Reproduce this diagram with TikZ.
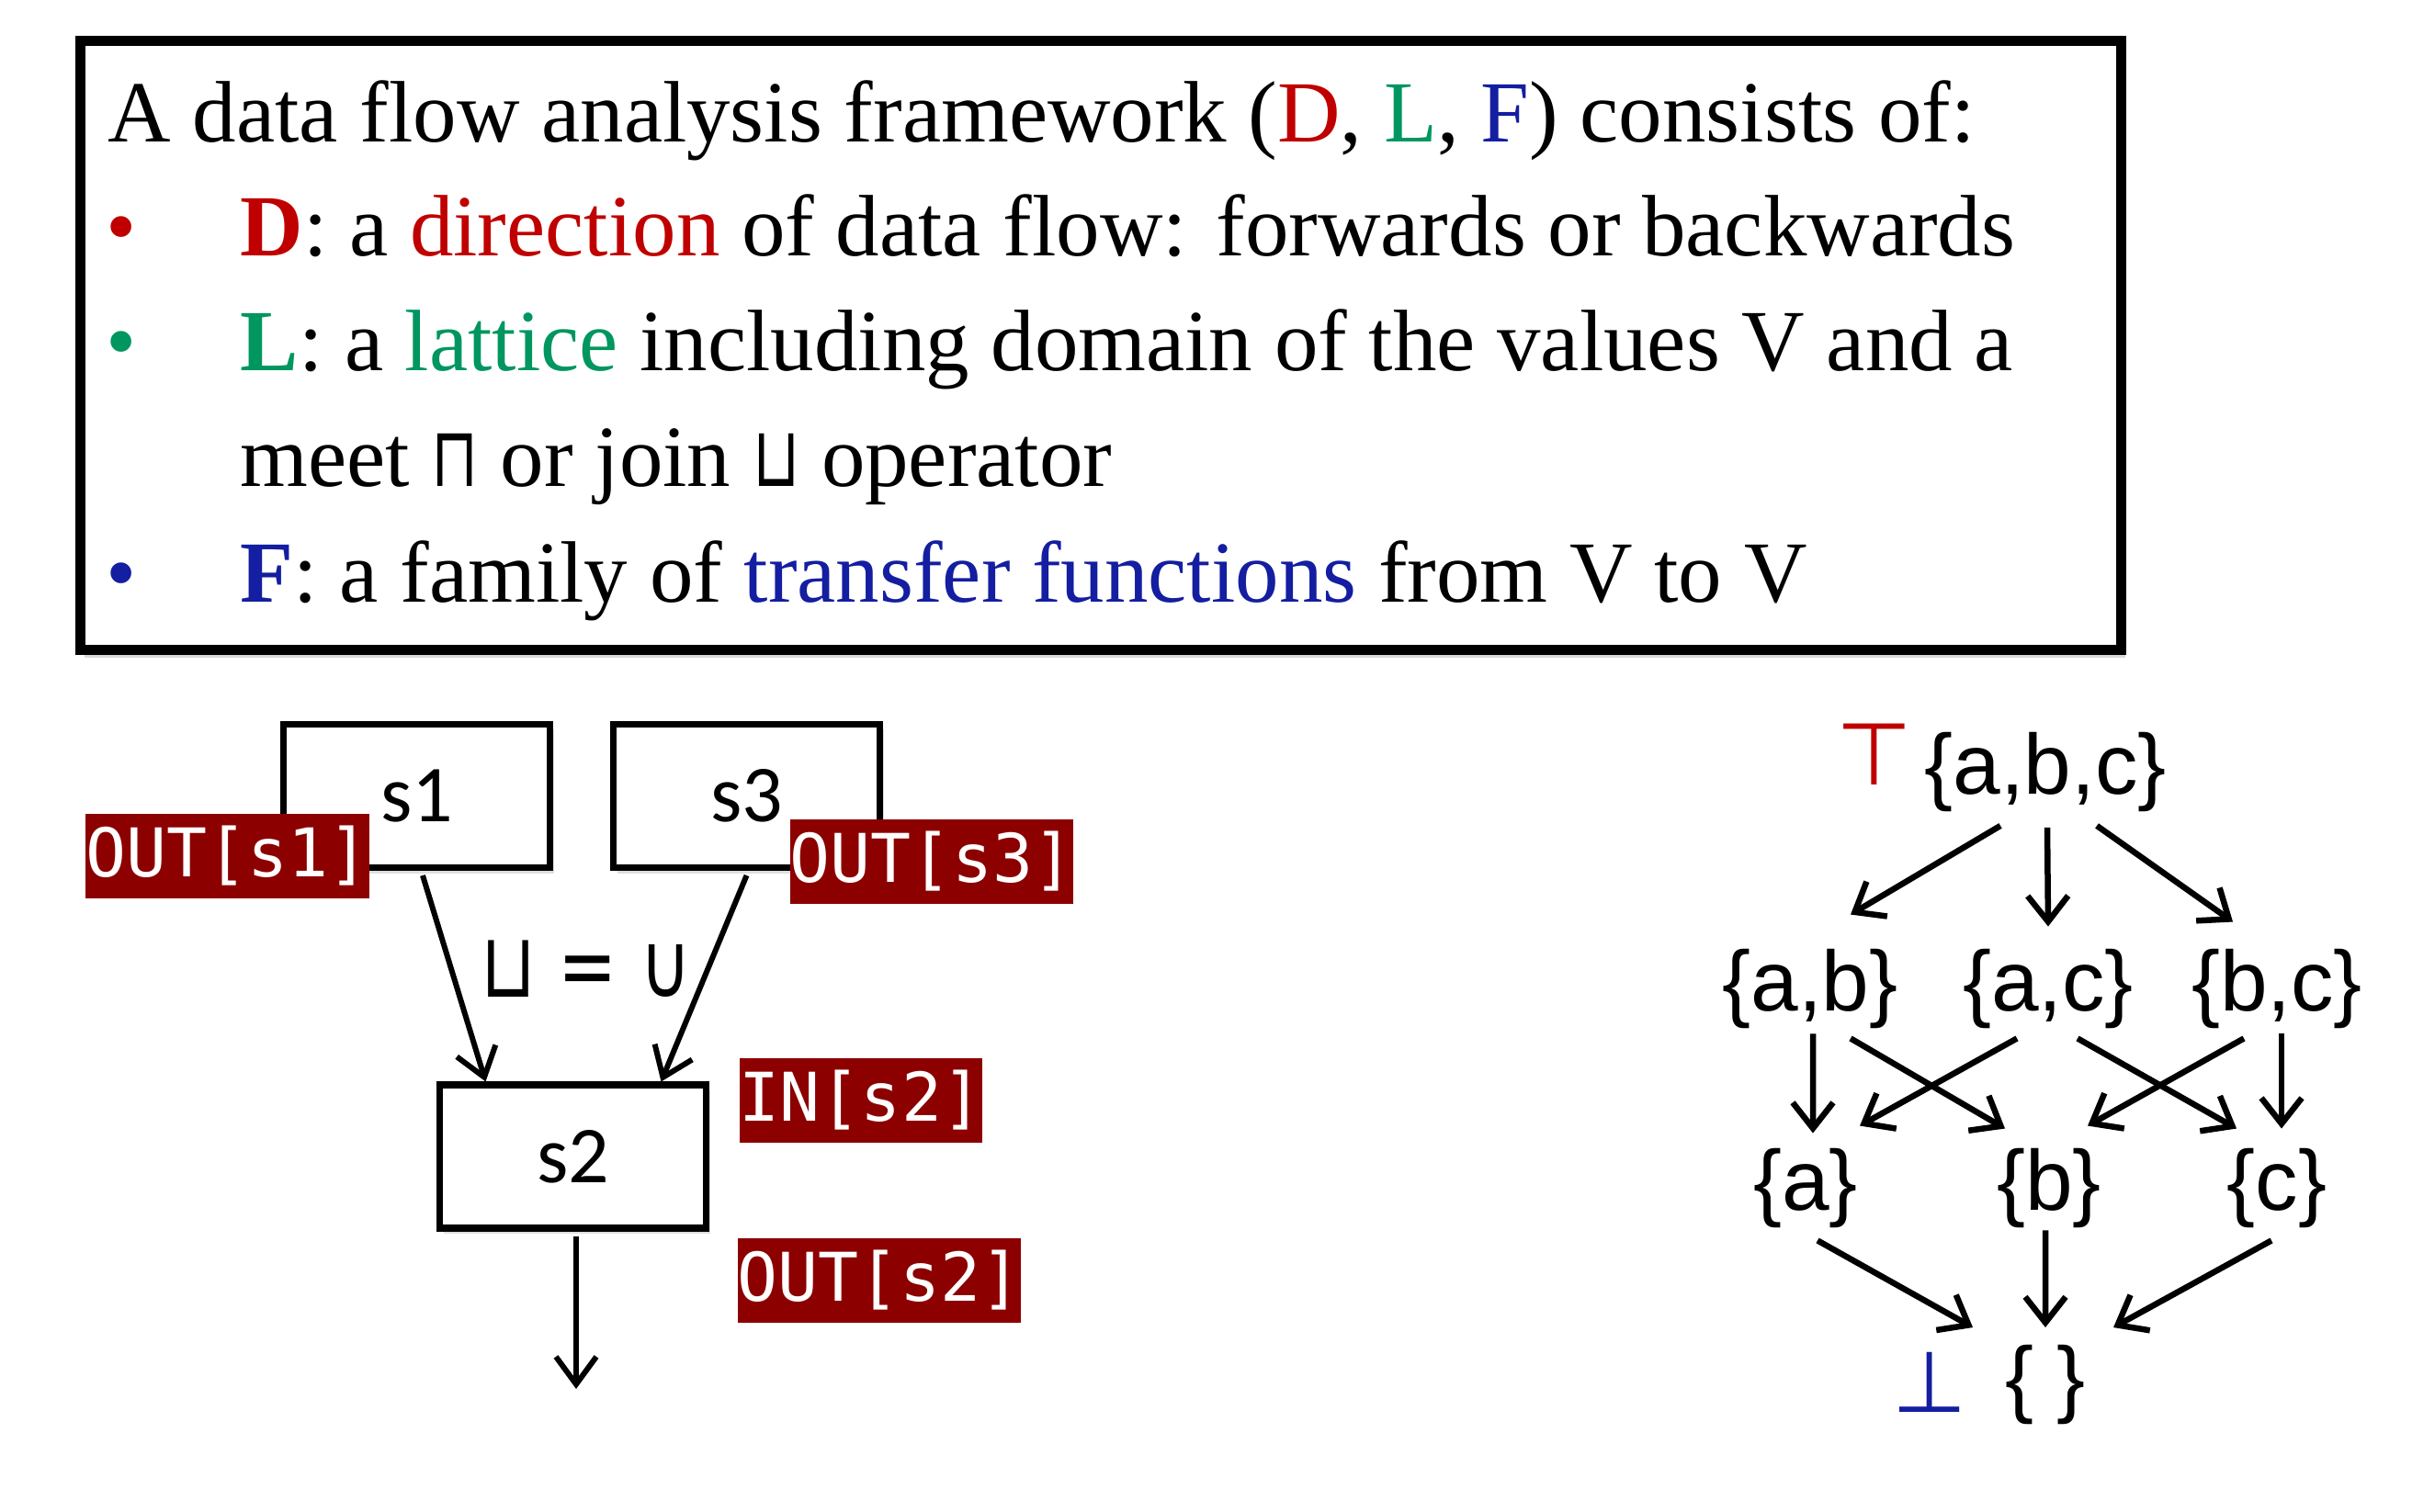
\documentclass[tikz,border=0pt]{standalone}
\usepackage{fontspec}
\usepackage{xcolor}
\usepackage{tikz}
\usetikzlibrary{arrows.meta, positioning, calc, shadows}
\setmainfont{Liberation Serif}
\newfontfamily\latticefont{Liberation Sans}
\newfontfamily\stmtfont{Carlito}
\newfontfamily\tagfont{DejaVu Sans Mono}
\newfontfamily\opfont{DejaVu Sans}
\definecolor{dirred}{RGB}{192, 0, 0}
\definecolor{latgreen}{RGB}{0, 150, 95}
\definecolor{funblue}{RGB}{20, 30, 160}
\definecolor{setred}{RGB}{140, 0, 0}
\newcommand{\narrowop}[1]{\scalebox{0.72}[1]{\opfont\fontsize{26}{28}\selectfont #1}}

\begin{document}
\begin{tikzpicture}[
    frame/.style={draw=black, fill=white, line width=1.1mm,
                  drop shadow={shadow xshift=0.5mm, shadow yshift=-0.8mm, opacity=0.3}},
    line/.style={anchor=base west, inner sep=0pt, font=\fontsize{27}{32}\selectfont},
    dot/.style={anchor=base, inner sep=0pt, font=\fontsize{27}{32}\selectfont},
    stmt/.style={rectangle, draw=black, fill=white, line width=2pt,
                 minimum width=2.9cm, minimum height=1.56cm,
                 font=\stmtfont\fontsize{25}{28}\selectfont,
                 drop shadow={shadow xshift=0.4mm, shadow yshift=-0.6mm, opacity=0.25}},
    tag/.style={fill=setred, text=white, inner sep=0pt, minimum height=0.92cm,
                font=\tagfont\fontsize{20.8}{24}\selectfont},
    elem/.style={inner sep=0pt, font=\latticefont\fontsize{26.4}{30}\selectfont},
    flow/.style={-{Straight Barb[length=3mm, width=4.4mm]}, line width=1.7pt},
    order/.style={-{Straight Barb[length=2.8mm, width=4.4mm]}, line width=1.85pt}
]
\useasboundingbox (0,0) rectangle (26.5,-16.46);

% Framework box
\draw[frame] (0.87,-0.45) rectangle (23.08,-7.08);
\node[line] (head) at (1.17,-1.55) {A data flow analysis framework (\textcolor{dirred}{D}, \textcolor{latgreen}{L}, \textcolor{funblue}{F}) consists of:};
\node[dot, text=dirred] (b1) at (1.32,-2.79) {•};
\node[line] (dline) at (2.61,-2.79) {\textcolor{dirred}{\textbf{D}}: a \textcolor{dirred}{direction} of data flow: forwards or backwards};
\node[dot, text=latgreen] (b2) at (1.32,-4.04) {•};
\node[line] (lline) at (2.61,-4.04) {\textcolor{latgreen}{\textbf{L}}: a \textcolor{latgreen}{lattice} including domain of the values V and a};
\node[line] (lline2) at (2.61,-5.30) {meet \narrowop{⊓} or join \narrowop{⊔} operator};
\node[dot, text=funblue] (b3) at (1.32,-6.56) {•};
\node[line] (fline) at (2.61,-6.56) {\textcolor{funblue}{\textbf{F}}: a family of \textcolor{funblue}{transfer functions} from V to V};

% Statements
\node[stmt] (s1) at (4.535,-8.665) {s1};
\node[stmt, right=0.62cm of s1] (s3) {s3};
\node[stmt] (s2) at (6.235,-12.59) {s2};
\coordinate (exit) at ($(s2.south)+(0.035,-1.715)$);

\draw[flow] ($(s1.south)+(0.065,-0.05)$) -- ($(s2.north)+(-0.95,0)$);
\draw[flow] ($(s3.south)+(0,-0.05)$) -- ($(s2.north)+(0.96,0)$);
\draw[flow] ($(s2.south)+(0.035,-0.05)$) -- (exit);
\node (join) at (6.38,-10.55) {\scalebox{0.78}[1]{\opfont\fontsize{28}{30}\selectfont ⊔ = ∪}};

\node[tag] (out1) at (2.475,-9.32) {OUT[s1]};
\node[tag] (out3) at (10.14,-9.38) {OUT[s3]};
\node[tag] (in2) at (9.37,-11.975) {IN[s2]};
\node[tag] (out2) at (9.57,-13.935) {OUT[s2]};

% Lattice
\node[elem] (abc) at (22.26,-8.41) {\{a,b,c\}};
\node[elem, text=dirred, font=\opfont\fontsize{27}{30}\selectfont] (top) at (20.40,-8.215) {⊤};
\node[elem] (ab) at (19.70,-10.765) {\{a,b\}};
\node[elem] (ac) at (22.29,-10.765) {\{a,c\}};
\node[elem] (bc) at (24.78,-10.765) {\{b,c\}};
\node[elem] (a) at (19.65,-12.935) {\{a\}};
\node[elem] (b) at (22.30,-12.935) {\{b\}};
\node[elem] (c) at (24.78,-12.935) {\{c\}};
\node[elem] (empty) at (22.26,-15.08) {\{ \}};
\node[elem, text=funblue, font=\opfont\fontsize{26.5}{30}\selectfont] (bot) at (21.005,-15.05) {⊥};

\draw[order] ($(abc.south)+(-0.49,-0.14)$) -- ($(ab.north)+(0.44,0.37)$);
\draw[order] ($(abc.south)+(0.02,-0.16)$) -- ($(ac.north)+(0,0.24)$);
\draw[order] ($(abc.south)+(0.56,-0.14)$) -- ($(bc.north)+(-0.48,0.29)$);

\draw[order] ($(ab.south)+(0.03,-0.05)$) -- ($(a.north)+(0.08,0.16)$);
\draw[order] ($(ab.south)+(0.44,-0.1)$) -- ($(b.north)+(-0.48,0.21)$);
\draw[order] ($(ac.south)+(-0.34,-0.1)$) -- ($(a.north)+(0.59,0.24)$);
\draw[order] ($(ac.south)+(0.32,-0.1)$) -- ($(c.north)+(-0.44,0.21)$);
\draw[order] ($(bc.south)+(-0.36,-0.1)$) -- ($(b.north)+(0.42,0.24)$);
\draw[order] ($(bc.south)+(0.05,-0.05)$) -- ($(c.north)+(0.05,0.21)$);

\draw[order] ($(a.south)+(0.13,-0.13)$) -- ($(empty.north)+(-0.79,0.19)$);
\draw[order] ($(b.south)+(-0.04,-0.02)$) -- ($(empty.north)+(0,0.19)$);
\draw[order] ($(c.south)+(-0.06,-0.13)$) -- ($(empty.north)+(0.74,0.19)$);

\end{tikzpicture}
\end{document}
